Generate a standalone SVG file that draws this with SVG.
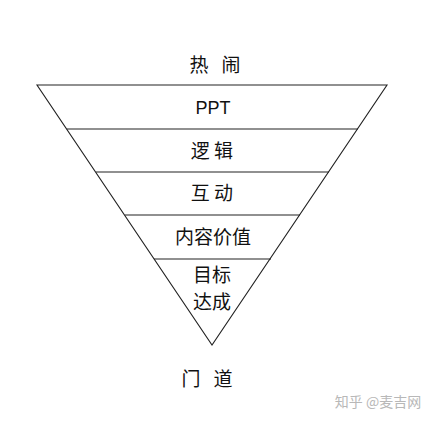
<svg xmlns="http://www.w3.org/2000/svg" width="431" height="422" viewBox="0 0 431 422">
<style>
.t{font-family:"Noto Sans CJK SC","Liberation Sans",sans-serif;font-size:19px;fill:#111;text-anchor:middle}
.l{stroke:#222;stroke-width:1.1;fill:none}
.w{font-family:"Noto Sans CJK SC",sans-serif;font-size:14px;fill:#b8b8b8;text-anchor:middle}
</style>
<rect width="431" height="422" fill="#fff"/>
<g id="connectors">
<polygon class="l" points="37,85 387,85 212,345"/>
<line class="l" x1="67" y1="129" x2="358" y2="129"/>
<line class="l" x1="96" y1="172" x2="329" y2="172"/>
<line class="l" x1="125" y1="215" x2="300" y2="215"/>
<line class="l" x1="154" y1="259" x2="271" y2="259"/>
</g>
<g id="top"><text class="t" x="215" y="72" xml:space="preserve">热   闹</text></g>
<g id="ppt"><text class="t" x="213" y="114" style="font-family:'Liberation Sans',sans-serif;font-size:18px">PPT</text></g>
<g id="luoji"><text class="t" x="212" y="158" xml:space="preserve">逻 辑</text></g>
<g id="hudong"><text class="t" x="212" y="200" xml:space="preserve">互 动</text></g>
<g id="neirong"><text class="t" x="213" y="244">内容价值</text></g>
<g id="mubiao"><text class="t" x="212" y="282">目标</text><text class="t" x="212" y="309">达成</text></g>
<g id="bottom"><text class="t" x="207" y="386" xml:space="preserve">门   道</text></g>
<text class="w" x="378" y="407">知乎 @麦吉网</text>
</svg>
